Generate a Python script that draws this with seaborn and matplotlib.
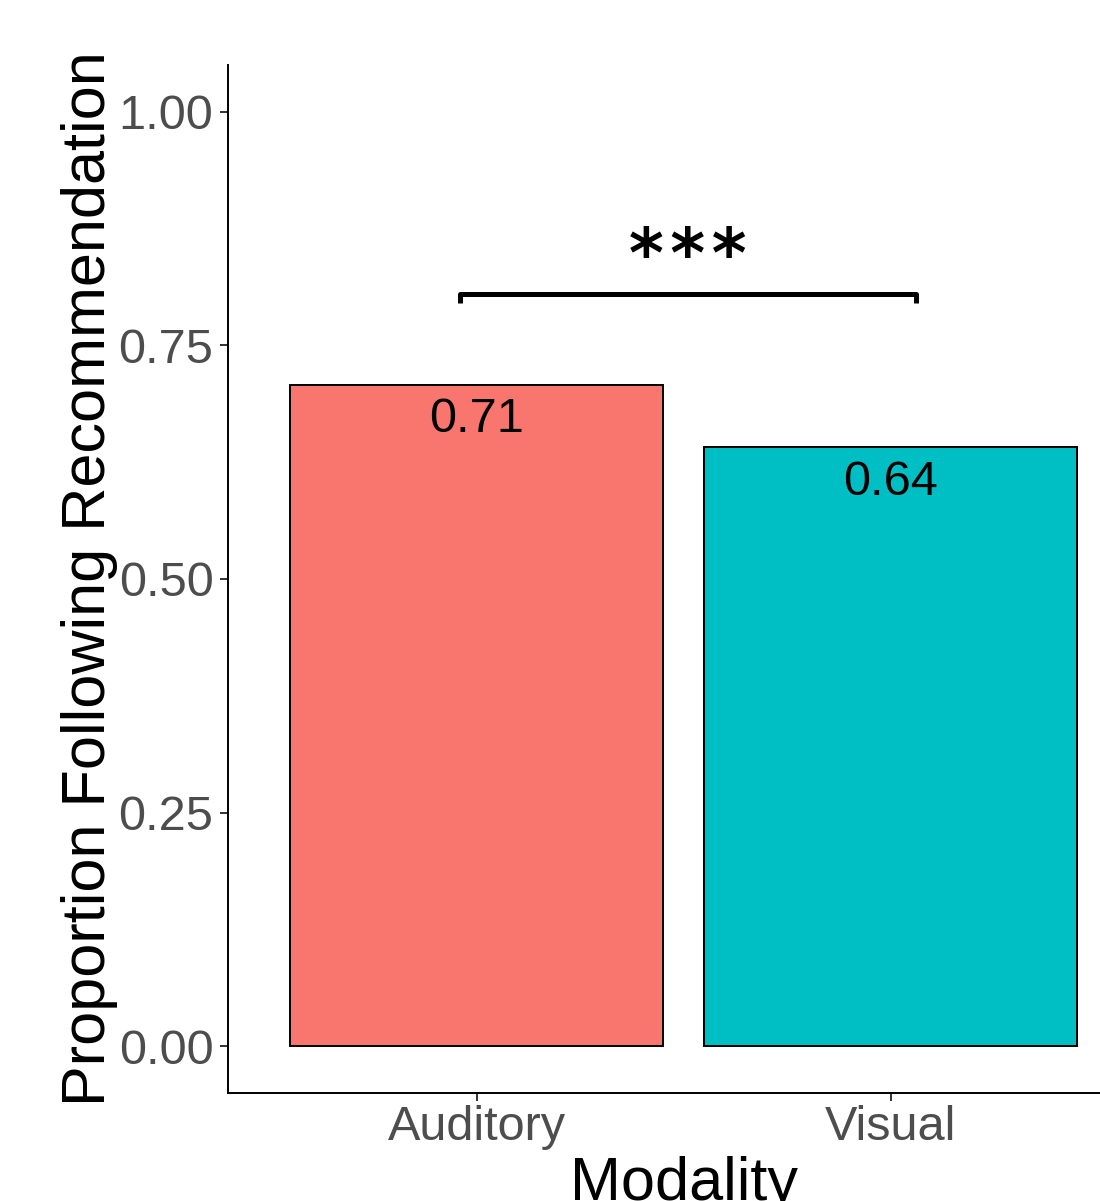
import pandas as pd
import matplotlib
matplotlib.use('Agg')
import matplotlib.pyplot as plt
import seaborn as sns

# data
modalities = ['Auditory', 'Visual']
proportions = [0.708, 0.641]
bar_labels = ['0.71', '0.64']
sig_label = '***'

df = pd.DataFrame({'Modality': modalities, 'Proportion': proportions})

sns.set_style('ticks')
plt.rcParams['font.family'] = ['Liberation Sans', 'DejaVu Sans']

fig = plt.figure(figsize=(11, 12.01), dpi=100)
# axes run past the right edge like the cropped original
ax = fig.add_axes([0.20727, 0.08993, 0.8286, 0.8560])

sns.barplot(data=df, x='Modality', y='Proportion', hue='Modality',
            palette=['#F8766D', '#00BFC4'], edgecolor='black', linewidth=1.4,
            width=0.9, legend=False, ax=ax, errorbar=None, saturation=1)

# value labels just under the bar tops
for i, (v, lab) in enumerate(zip(proportions, bar_labels)):
    ax.text(i, v - 0.0512, lab, ha='center', va='baseline', fontsize=35, color='black')

# significance bracket
ax.plot([-0.04, -0.04, 1.06, 1.06], [0.795, 0.805, 0.805, 0.795], color='black',
        lw=3.6, solid_joinstyle='round', solid_capstyle='butt')
# six-armed stars, spread a little with hair spaces
ax.text(0.51, 0.823, '\u200a'.join(sig_label), ha='center', va='baseline',
        fontsize=48, fontweight='bold', color='black', family='DejaVu Sans')

ax.set_xlim(-0.6, 1.6)
ax.set_ylim(-0.05, 1.05)
ax.set_yticks([0, 0.25, 0.5, 0.75, 1.0])
ax.set_yticklabels(['0.00', '0.25', '0.50', '0.75', '1.00'])

ax.set_xlabel('Modality', fontsize=44, color='black')
ax.set_ylabel('Proportion Following Recommendation', fontsize=44, color='black')
ax.xaxis.set_label_coords(0.5, -0.061)
ax.yaxis.set_label_coords(-0.121, 0.5)

ax.tick_params(axis='both', labelsize=35, labelcolor='#4D4D4D', color='#333333',
               length=5.5, width=1.4)
ax.tick_params(axis='x', pad=3)
ax.tick_params(axis='y', pad=5)

sns.despine(ax=ax)
for s in ['left', 'bottom']:
    ax.spines[s].set_linewidth(1.4)
    ax.spines[s].set_color('black')

fig.savefig('out.png', dpi=100)
